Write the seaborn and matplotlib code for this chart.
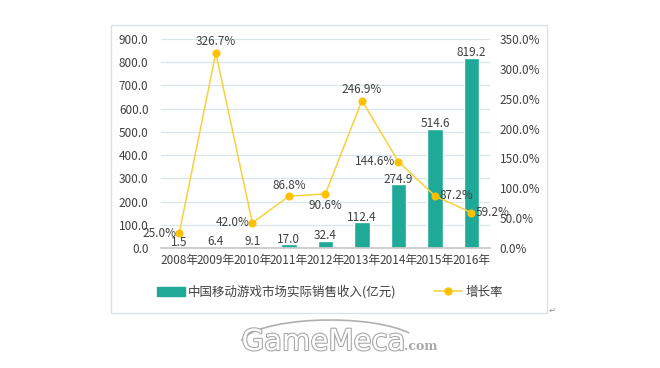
import matplotlib
matplotlib.use("Agg")
import matplotlib.pyplot as plt
import matplotlib.patheffects as pe
import seaborn as sns
import pandas as pd
from matplotlib.patches import Patch, Rectangle, Arc
from matplotlib.lines import Line2D

years = ["2008年", "2009年", "2010年", "2011年", "2012年", "2013年", "2014年", "2015年", "2016年"]
revenue = [1.5, 6.4, 9.1, 17.0, 32.4, 112.4, 274.9, 514.6, 819.2]
growth = [25.0, 326.7, 42.0, 86.8, 90.6, 246.9, 144.6, 87.2, 59.2]
# where each growth label sits relative to its marker
growth_pos = ["left", "above", "left", "above", "below", "above", "left", "right", "right"]

bar_name = "中国移动游戏市场实际销售收入(亿元)"
line_name = "增长率"

teal = "#1FAA98"
gold = "#FFC000"
line_col = "#F7D23A"
grid_col = "#D8E6EA"
txt = "#404040"

sns.set_theme(style="white")
plt.rcParams["font.family"] = ["Noto Sans CJK SC", "DejaVu Sans"]

df = pd.DataFrame({"year": years, "revenue": revenue, "growth": growth})

fig = plt.figure(figsize=(6.6, 3.68), dpi=100)
ax = fig.add_axes([0.244, 0.326, 0.498, 0.568])

sns.barplot(data=df, x="year", y="revenue", color=teal, width=0.42,
            saturation=1, ax=ax, zorder=2)
ax.set_ylim(0, 900)
ax.set_yticks(range(0, 901, 100))
ax.set_yticklabels([f"{v:.1f}" for v in range(0, 901, 100)])
ax.yaxis.grid(True, color=grid_col, linewidth=0.9)
ax.set_axisbelow(True)
for s in ["left", "right", "top"]:
    ax.spines[s].set_visible(False)
ax.spines["bottom"].set_color("#C8C8C8")
ax.tick_params(length=0, labelsize=8.5, colors=txt, pad=9)
ax.tick_params(axis="x", pad=4, labelsize=8.5)
ax.set_xlabel("")
ax.set_ylabel("")

for i, v in enumerate(revenue):
    ax.annotate(f"{v:.1f}", (i, v), xytext=(0, 3.5), textcoords="offset points",
                ha="center", va="center", fontsize=8.5, color=txt, zorder=5)

ax2 = ax.twinx()
sns.pointplot(data=df, x="year", y="growth", color=line_col, markers="o",
              markersize=5, linewidth=1.1, ax=ax2, zorder=3)
for coll in ax2.lines:
    coll.set_markerfacecolor(gold)
    coll.set_markeredgecolor(gold)
ax2.set_ylim(0, 350)
ax2.set_yticks(range(0, 351, 50))
ax2.set_yticklabels([f"{v:.1f}%" for v in range(0, 351, 50)])
for s in ["left", "right", "top", "bottom"]:
    ax2.spines[s].set_visible(False)
ax2.tick_params(length=0, labelsize=8.5, colors=txt, pad=7)
ax2.set_xlabel("")
ax2.set_ylabel("")

offsets = {"left": (-2, 0, "right", "center"), "right": (3, 0, "left", "center"),
           "above": (0, 8, "center", "center"), "below": (0, -8, "center", "center")}
for i, (g, p) in enumerate(zip(growth, growth_pos)):
    dx, dy, ha, va = offsets[p]
    ax2.annotate(f"{g:.1f}%", (i, g), xytext=(dx, dy), textcoords="offset points",
                 ha=ha, va=va, fontsize=8.5, color=txt, zorder=6)

handles = [Patch(facecolor=teal, edgecolor=teal),
           Line2D([0], [0], color=line_col, lw=1.1, marker="o", markersize=5,
                  markerfacecolor=gold, markeredgecolor=gold)]
fig.legend(handles, [bar_name, line_name], loc="center", bbox_to_anchor=(0.5, 0.207),
           ncol=2, frameon=False, fontsize=9, handlelength=2.2, columnspacing=3.0,
           handletextpad=0.3, labelcolor=txt)

# outer chart frame
fig.patches.append(Rectangle((111 / 660, 1 - 313 / 368), 436 / 660, 288 / 368,
                             transform=fig.transFigure, fill=False,
                             edgecolor="#D5E3E6", linewidth=0.9))
fig.text(549 / 660, 1 - 310 / 368, "↵", fontsize=6, color="#909090",
         ha="left", va="center", family=["DejaVu Sans"])

# watermark
fig.patches.append(Arc((330 / 660, 1 - 345 / 368), 180 / 660, 50 / 368, theta1=15, theta2=175,
                       transform=fig.transFigure, color="#B0B0B0", linewidth=1.2))
fig.text(0.49, 1 - 342 / 368, "GameMeca", fontsize=21, color="white",
         ha="center", va="center", family=["DejaVu Sans"],
         path_effects=[pe.withStroke(linewidth=1.6, foreground="#A8A8A8")])
fig.text(0.612, 1 - 346 / 368, ".com", fontsize=9, color="#A8A8A8",
         ha="left", va="center", family=["DejaVu Serif"], fontweight="bold")

fig.savefig("out.png", dpi=100, facecolor="white")
